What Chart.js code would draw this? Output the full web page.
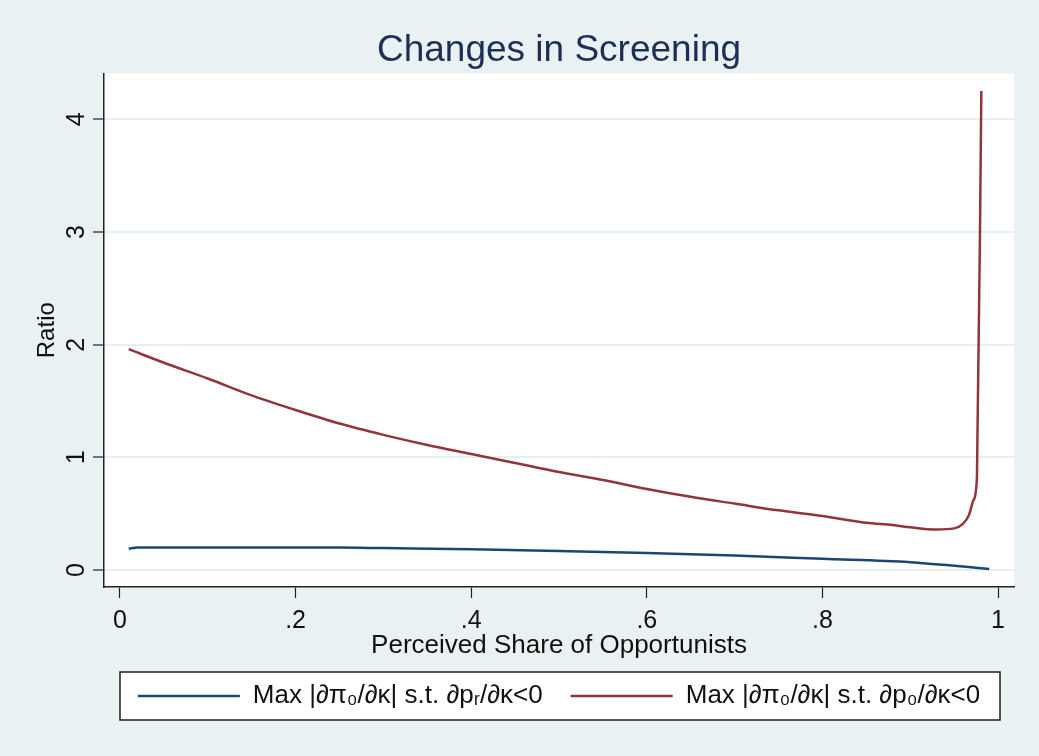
<!DOCTYPE html>
<html>
<head>
<meta charset="utf-8">
<script src="https://cdn.jsdelivr.net/npm/chart.js@4.4.0/dist/chart.umd.min.js"></script>
<style>
  body { margin: 0; background: #eaf1f3; }
</style>
</head>
<body>
<canvas id="myChart" width="1039" height="756"></canvas>
<script>
// data
var rX = [0.01, 0.05, 0.10, 0.15, 0.20, 0.25, 0.30, 0.35, 0.40, 0.45, 0.50, 0.55, 0.60, 0.65, 0.70, 0.75, 0.80, 0.85, 0.88, 0.90, 0.93, 0.95, 0.96, 0.967, 0.972, 0.976, 0.981];
var rY = [1.96, 1.84, 1.70, 1.55, 1.42, 1.30, 1.20, 1.11, 1.03, 0.95, 0.87, 0.80, 0.72, 0.65, 0.59, 0.53, 0.48, 0.42, 0.40, 0.38, 0.36, 0.37, 0.41, 0.49, 0.62, 0.82, 4.25];
var bX = [0.01, 0.02, 0.10, 0.20, 0.25, 0.30, 0.40, 0.50, 0.60, 0.70, 0.80, 0.90, 0.99];
var bY = [0.19, 0.20, 0.20, 0.20, 0.20, 0.195, 0.185, 0.17, 0.152, 0.13, 0.10, 0.07, 0.01];
var xTicks = [0, 0.2, 0.4, 0.6, 0.8, 1];
var xTickLabels = ["0", ".2", ".4", ".6", ".8", "1"];
var yTicks = [0, 1, 2, 3, 4];
var seriesNames = ["Max |\u2202\u03c0\u2080/\u2202\u03ba| s.t. \u2202p\u1d63/\u2202\u03ba<0", "Max |\u2202\u03c0\u2080/\u2202\u03ba| s.t. \u2202p\u2080/\u2202\u03ba<0"];

function pts(xs, ys) {
  return xs.map(function (x, i) { return { x: x, y: ys[i] }; });
}

var FONT = "'Liberation Sans', Arial, sans-serif";

var backdrop = {
  id: "backdrop",
  beforeDraw: function (chart) {
    var c = chart.ctx, a = chart.chartArea, lg = chart.legend;
    c.save();
    c.fillStyle = "#eaf1f3";
    c.fillRect(0, 0, chart.width, chart.height);
    c.fillStyle = "#ffffff";
    c.fillRect(a.left, a.top, a.right - a.left, a.bottom - a.top);
    var hb = lg.legendHitBoxes[0];
    var mid = hb.top + hb.height / 2;
    var x0 = a.left + 16, x1 = a.right - 14;
    c.fillRect(x0, mid - 24, x1 - x0, 48);
    c.strokeStyle = "#1c1c1c";
    c.lineWidth = 1.5;
    c.strokeRect(x0, mid - 24, x1 - x0, 48);
    c.restore();
  }
};

var ctx = document.getElementById("myChart");
var myChart = new Chart(ctx, {
  type: "line",
  data: {
    datasets: [
      {
        label: seriesNames[0],
        data: pts(bX, bY),
        borderColor: "#1a476f",
        backgroundColor: "#1a476f",
        borderWidth: 2.5,
        pointRadius: 0,
        fill: false,
        cubicInterpolationMode: "monotone"
      },
      {
        label: seriesNames[1],
        data: pts(rX, rY),
        borderColor: "#90353b",
        backgroundColor: "#90353b",
        borderWidth: 2.5,
        pointRadius: 0,
        fill: false,
        cubicInterpolationMode: "monotone"
      }
    ]
  },
  options: {
    responsive: false,
    animation: false,
    layout: { padding: { left: 0, right: 25, top: 0, bottom: 37 } },
    plugins: {
      title: {
        display: true,
        text: "Changes in Screening",
        color: "#1e2f56",
        font: { family: FONT, size: 37, weight: "normal" },
        padding: { top: 29, bottom: 0 },
        fullSize: false
      },
      legend: {
        position: "bottom",
        fullSize: false,
        labels: {
          usePointStyle: true,
          pointStyle: "line",
          pointStyleWidth: 102,
          padding: 28,
          color: "#111",
          font: { family: FONT, size: 26 }
        }
      },
      tooltip: { enabled: false }
    },
    scales: {
      x: {
        type: "linear",
        min: -0.0182,
        max: 1.0182,
        afterBuildTicks: function (s) { s.ticks = xTicks.map(function (v) { return { value: v }; }); },
        afterFit: function (s) { s.height = 68; },
        grid: { drawOnChartArea: false, tickLength: 11, tickColor: "#222", tickWidth: 1.2 },
        border: { color: "#222", width: 1.5 },
        ticks: {
          color: "#111",
          padding: 8,
          maxRotation: 0,
          font: { family: FONT, size: 25 },
          callback: function (v, i) { return xTickLabels[i]; }
        },
        title: {
          display: true,
          text: "Perceived Share of Opportunists",
          color: "#111",
          font: { family: FONT, size: 26 },
          padding: { top: 0, bottom: -6.5 }
        }
      },
      y: {
        min: -0.15,
        max: 4.407,
        afterBuildTicks: function (s) { s.ticks = yTicks.map(function (v) { return { value: v }; }); },
        afterFit: function (s) { s.width = 104; },
        grid: { color: "#e6eff2", lineWidth: 2, tickLength: 11, tickColor: "#222", tickWidth: 1.2 },
        border: { color: "#222", width: 1.5 },
        ticks: {
          color: "#111",
          padding: 9,
          minRotation: 90,
          maxRotation: 90,
          crossAlign: "center",
          font: { family: FONT, size: 25 },
          callback: function (v) { return String(v); }
        },
        title: {
          display: true,
          text: "Ratio",
          color: "#111",
          font: { family: FONT, size: 24 },
          padding: { top: 33, bottom: 0 }
        }
      }
    }
  },
  plugins: [backdrop]
});
</script>
</body>
</html>
